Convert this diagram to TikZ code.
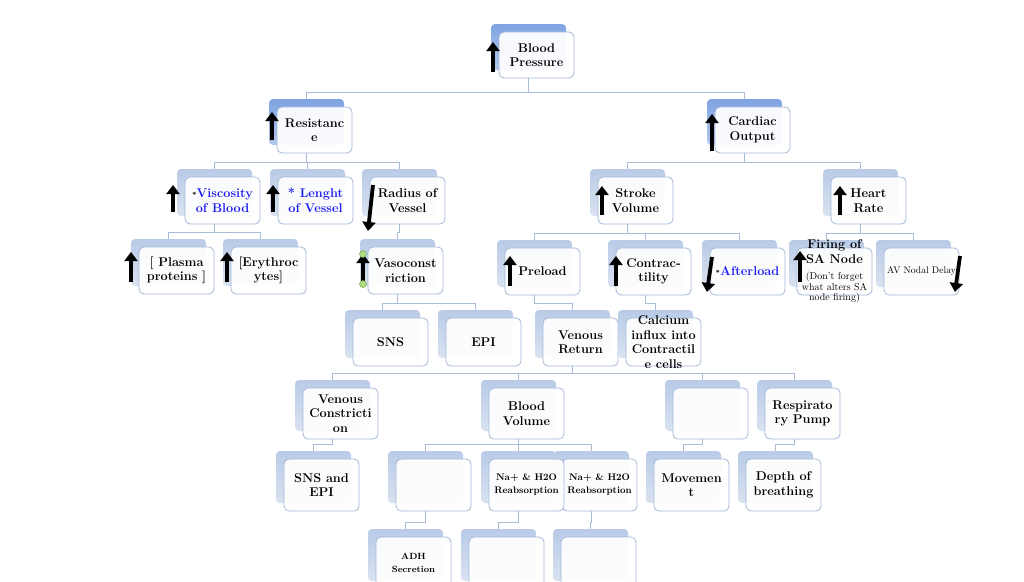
\documentclass[tikz,border=0pt]{standalone}
\usepackage{xcolor}
\usepackage{tikz}
\usetikzlibrary{arrows.meta,backgrounds}
\definecolor{tileedge}{HTML}{A3B8D9}
\definecolor{linkblue}{HTML}{A9BDDA}
\definecolor{deepback}{HTML}{7FA4E2}
\definecolor{deepbacklow}{HTML}{B3C8EC}
\definecolor{paleback}{HTML}{B9CBE7}
\definecolor{palebacklow}{HTML}{D9E2F0}
\definecolor{handlegreen}{HTML}{B3DD84}
\definecolor{handleedge}{HTML}{6FA84A}
\definecolor{labelblue}{HTML}{1A1AF2}
\tikzset{
  backbox/.style={rounded corners=4pt,top color=paleback,bottom color=palebacklow,draw=none,
    minimum width=75pt,inner sep=0pt,outer sep=0pt},
  topbackbox/.style={backbox,top color=deepback,bottom color=deepbacklow},
  frontbox/.style={draw=tileedge,line width=0.8pt,rounded corners=5pt,fill=white,fill opacity=0.93,
    minimum width=75pt,inner sep=0pt,outer sep=0pt},
  tiletext/.style={align=center,inner sep=0pt,font=\fontsize{12.7}{14.5}\selectfont\bfseries},
  link/.style={draw=linkblue,line width=0.9pt},
  levelarrow/.style={-{Triangle[length=9pt,width=13pt]},line width=3.8pt,black},
  handle/.style={circle,fill=handlegreen,draw=handleedge,line width=0.5pt,inner sep=0pt,minimum size=7pt}
}
% back tile, front tile and its text; #3,#4 = top left of the back tile, #5 = height
\newcommand\maptile[6][backbox]{%
  \node[#1,minimum height=#5pt] (#2-bk) at (#3+37.5,#4+#5/2) {};
  \node[frontbox,minimum height=#5pt] (#2) at (#3+45.5,#4+#5/2+8) {};
  \node[tiletext] (#2-tx) at (#2.center) {#6};}

\begin{document}
\begin{tikzpicture}[x=1pt,y=-1pt]
  \path[use as bounding box] (0,0) rectangle (1024,581);

  % level 1 and 2
  \maptile[topbackbox]{bp}{491}{24}{46}{Blood\\Pressure}
  \maptile[topbackbox]{res}{269}{99}{46}{Resistanc\\e}
  \maptile[topbackbox]{co}{707}{99}{46}{Cardiac\\Output}

  % level 3
  \maptile{visc}{177}{169}{47}{{\scriptsize*}\textcolor{labelblue}{Viscosity}\\\textcolor{labelblue}{of Blood}}
  \maptile{len}{270}{169}{47}{\textcolor{labelblue}{* Lenght}\\\textcolor{labelblue}{of Vessel}}
  \maptile{rad}{362}{169}{47}{Radius of\\Vessel}
  \maptile{sv}{590}{169}{47}{Stroke\\Volume}
  \maptile{hr}{823}{169}{47}{Heart\\Rate}

  % level 4
  \maptile{pla}{131}{239}{47}{[ Plasma\\proteins ]}
  \maptile{ery}{223}{239}{47}{[Erythroc\\ytes]}
  \maptile{vaso}{360}{239}{47}{Vasoconst\\riction}
  \maptile{pre}{497}{240}{47}{Preload}
  \maptile{con}{608}{240}{47}{Contrac-\\tility}
  \maptile{aft}{702}{240}{47}{{\scriptsize*}\textcolor{labelblue}{Afterload}}
  \maptile{fir}{789}{240}{47}{Firing of\\SA Node\\[2pt]%
    \fontsize{10}{10.5}\selectfont\mdseries (Don't forget\\[-4pt]%
    \fontsize{10}{10.5}\selectfont\mdseries what alters SA\\[-4pt]%
    \fontsize{10}{10.5}\selectfont\mdseries node firing)}
  \maptile{av}{876}{240}{47}{\fontsize{9.6}{11}\selectfont\mdseries AV Nodal Delay}

  % level 5
  \maptile{sns}{345}{310}{48}{SNS}
  \maptile{epi}{438}{310}{48}{EPI}
  \maptile{vr}{535}{310}{48}{Venous\\Return}
  \maptile{cal}{618}{310}{48}{Calcium\\influx into\\Contractil\\e cells}

  % level 6
  \maptile{vc}{295}{380}{51}{Venous\\Constricti\\on}
  \maptile{bv}{481}{380}{51}{Blood\\Volume}
  \maptile{blank1}{665}{380}{51}{}
  \maptile{rp}{757}{380}{51}{Respirato\\ry Pump}

  % level 7
  \maptile{se}{276}{451}{52}{SNS and\\EPI}
  \maptile{blank2}{388}{451}{52}{}
  \maptile{na2}{554}{451}{52}{\fontsize{9.6}{11}\selectfont Na+ \& H2O\\[-1.5pt]\fontsize{9.6}{11}\selectfont Reabsorption}
  \maptile{na1}{481}{451}{52}{\fontsize{9.6}{11}\selectfont Na+ \& H2O\\[-1.5pt]\fontsize{9.6}{11}\selectfont Reabsorption}
  \maptile{mov}{646}{451}{52}{Movemen\\t}
  \maptile{dep}{738}{451}{52}{Depth of\\breathing}

  % level 8
  \maptile{adh}{368}{529}{52}{\fontsize{9}{10}\selectfont ADH\\[-2pt]\fontsize{9}{10}\selectfont Secretion}
  \maptile{blank3}{461}{529}{52}{}
  \maptile{blank4}{553}{529}{52}{}

  % up and down marks
  \draw[levelarrow] (493,72) -- (493,42);
  \draw[levelarrow] (272,140) -- (272,112);
  \draw[levelarrow] (712,151) -- (712,114);
  \draw[levelarrow] (173,212) -- (173,185);
  \draw[levelarrow] (273,212) -- (273,185);
  \draw[levelarrow] (373,185) -- (368,231);
  \draw[levelarrow] (602,215) -- (602,186);
  \draw[levelarrow] (840,215) -- (840,186);
  \draw[levelarrow] (131,282) -- (131,252);
  \draw[levelarrow] (227,282) -- (227,252);
  \draw[levelarrow] (363,284) -- (363,254);
  \draw[levelarrow] (510,286) -- (510,256);
  \draw[levelarrow] (616,286) -- (616,256);
  \draw[levelarrow] (712,257) -- (707,292);
  \draw[levelarrow] (800,282) -- (800,251);
  \draw[levelarrow] (960,256) -- (955,292);
  \node[handle] (vaso-top) at (363,254) {};
  \node[handle] (vaso-foot) at (363,284) {};

  \begin{pgfonlayer}{background}
    \fill[white] (0,0) rectangle (1024,581);
    \draw[link] (bp-bk |- bp.south) |- ([yshift=7pt]res-bk.north) -- (res-bk.north);
    \draw[link] (bp-bk |- bp.south) |- ([yshift=7pt]co-bk.north) -- (co-bk.north);
    \draw[link] (res-bk |- res.south) |- ([yshift=7pt]visc-bk.north) -- (visc-bk.north);
    \draw[link] (res-bk |- res.south) |- ([yshift=7pt]len-bk.north) -- (len-bk.north);
    \draw[link] (res-bk |- res.south) |- ([yshift=7pt]rad-bk.north) -- (rad-bk.north);
    \draw[link] (co-bk |- co.south) |- ([yshift=7pt]sv-bk.north) -- (sv-bk.north);
    \draw[link] (co-bk |- co.south) |- ([yshift=7pt]hr-bk.north) -- (hr-bk.north);
    \draw[link] (visc-bk |- visc.south) |- ([yshift=7pt]pla-bk.north) -- (pla-bk.north);
    \draw[link] (visc-bk |- visc.south) |- ([yshift=7pt]ery-bk.north) -- (ery-bk.north);
    \draw[link] (rad-bk |- rad.south) |- ([yshift=7pt]vaso-bk.north) -- (vaso-bk.north);
    \draw[link] (sv-bk |- sv.south) |- ([yshift=7pt]pre-bk.north) -- (pre-bk.north);
    \draw[link] (sv-bk |- sv.south) |- ([yshift=7pt]con-bk.north) -- (con-bk.north);
    \draw[link] (sv-bk |- sv.south) |- ([yshift=7pt]aft-bk.north) -- (aft-bk.north);
    \draw[link] (hr-bk |- hr.south) |- ([yshift=7pt]fir-bk.north) -- (fir-bk.north);
    \draw[link] (hr-bk |- hr.south) |- ([yshift=7pt]av-bk.north) -- (av-bk.north);
    \draw[link] (vaso-bk |- vaso.south) |- ([yshift=7pt]sns-bk.north) -- (sns-bk.north);
    \draw[link] (vaso-bk |- vaso.south) |- ([yshift=7pt]epi-bk.north) -- (epi-bk.north);
    \draw[link] (pre-bk |- pre.south) |- ([yshift=7pt]vr-bk.north) -- (vr-bk.north);
    \draw[link] (con-bk |- con.south) |- ([yshift=7pt]cal-bk.north) -- (cal-bk.north);
    \draw[link] (vr-bk |- vr.south) |- ([yshift=7pt]vc-bk.north) -- (vc-bk.north);
    \draw[link] (vr-bk |- vr.south) |- ([yshift=7pt]bv-bk.north) -- (bv-bk.north);
    \draw[link] (vr-bk |- vr.south) |- ([yshift=7pt]blank1-bk.north) -- (blank1-bk.north);
    \draw[link] (vr-bk |- vr.south) |- ([yshift=7pt]rp-bk.north) -- (rp-bk.north);
    \draw[link] (vc-bk |- vc.south) |- ([yshift=7pt]se-bk.north) -- (se-bk.north);
    \draw[link] (bv-bk |- bv.south) |- ([yshift=7pt]blank2-bk.north) -- (blank2-bk.north);
    \draw[link] (bv-bk |- bv.south) |- ([yshift=7pt]na1-bk.north) -- (na1-bk.north);
    \draw[link] (bv-bk |- bv.south) |- ([yshift=7pt]na2-bk.north) -- (na2-bk.north);
    \draw[link] (blank1-bk |- blank1.south) |- ([yshift=7pt]mov-bk.north) -- (mov-bk.north);
    \draw[link] (rp-bk |- rp.south) |- ([yshift=7pt]dep-bk.north) -- (dep-bk.north);
    \draw[link] (blank2-bk |- blank2.south) |- ([yshift=7pt]adh-bk.north) -- (adh-bk.north);
    \draw[link] (na1-bk |- na1.south) |- ([yshift=7pt]blank3-bk.north) -- (blank3-bk.north);
    \draw[link] (na2-bk |- na2.south) |- ([yshift=7pt]blank4-bk.north) -- (blank4-bk.north);
  \end{pgfonlayer}
\end{tikzpicture}
\end{document}
